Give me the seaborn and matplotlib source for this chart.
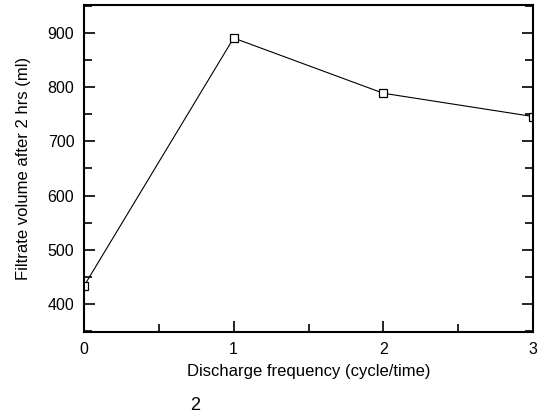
import numpy as np
import pandas as pd
import matplotlib
matplotlib.use("Agg")
import matplotlib.pyplot as plt
import seaborn as sns
from matplotlib.ticker import MultipleLocator

# data
frequency = [0, 1, 2, 3]
filtrate_volume = [433, 891, 789, 746]

df = pd.DataFrame({"freq": frequency, "vol": filtrate_volume})

sns.set_style("ticks", {"axes.edgecolor": "black", "xtick.color": "black",
                        "ytick.color": "black", "text.color": "black",
                        "axes.labelcolor": "black"})
plt.rcParams['font.family'] = ['Liberation Sans', 'DejaVu Sans']

fig = plt.figure(figsize=(5.42, 4.18), dpi=100)
ax = fig.add_axes([84 / 542, 1 - 332 / 418, (533 - 84) / 542, (332 - 5) / 418])

sns.lineplot(data=df, x="freq", y="vol", ax=ax, color="black", linewidth=0.8,
             marker="s", markersize=6, markerfacecolor="white",
             markeredgecolor="black", markeredgewidth=0.9)

ax.set_xlim(0, 3)
ax.set_ylim(348, 952)
ax.xaxis.set_major_locator(MultipleLocator(1))
ax.xaxis.set_minor_locator(MultipleLocator(0.5))
ax.yaxis.set_major_locator(MultipleLocator(100))
ax.yaxis.set_minor_locator(MultipleLocator(50))
ax.tick_params(which="both", direction="in", right=True, top=False,
               labelsize=11.5, width=1.2, colors="black")
ax.tick_params(which="major", length=8, pad=7)
ax.tick_params(which="minor", length=6)
for s in ax.spines.values():
    s.set_linewidth(1.5)
    s.set_color("black")

ax.set_xlabel("Discharge frequency (cycle/time)", fontsize=12, labelpad=5)
ax.set_ylabel("Filtrate volume after 2 hrs (ml)", fontsize=12, labelpad=12)

fig.text(195 / 542, 1 - 405 / 418, "2", fontsize=13, ha="center", va="center")

fig.savefig("out.png", dpi=100)
